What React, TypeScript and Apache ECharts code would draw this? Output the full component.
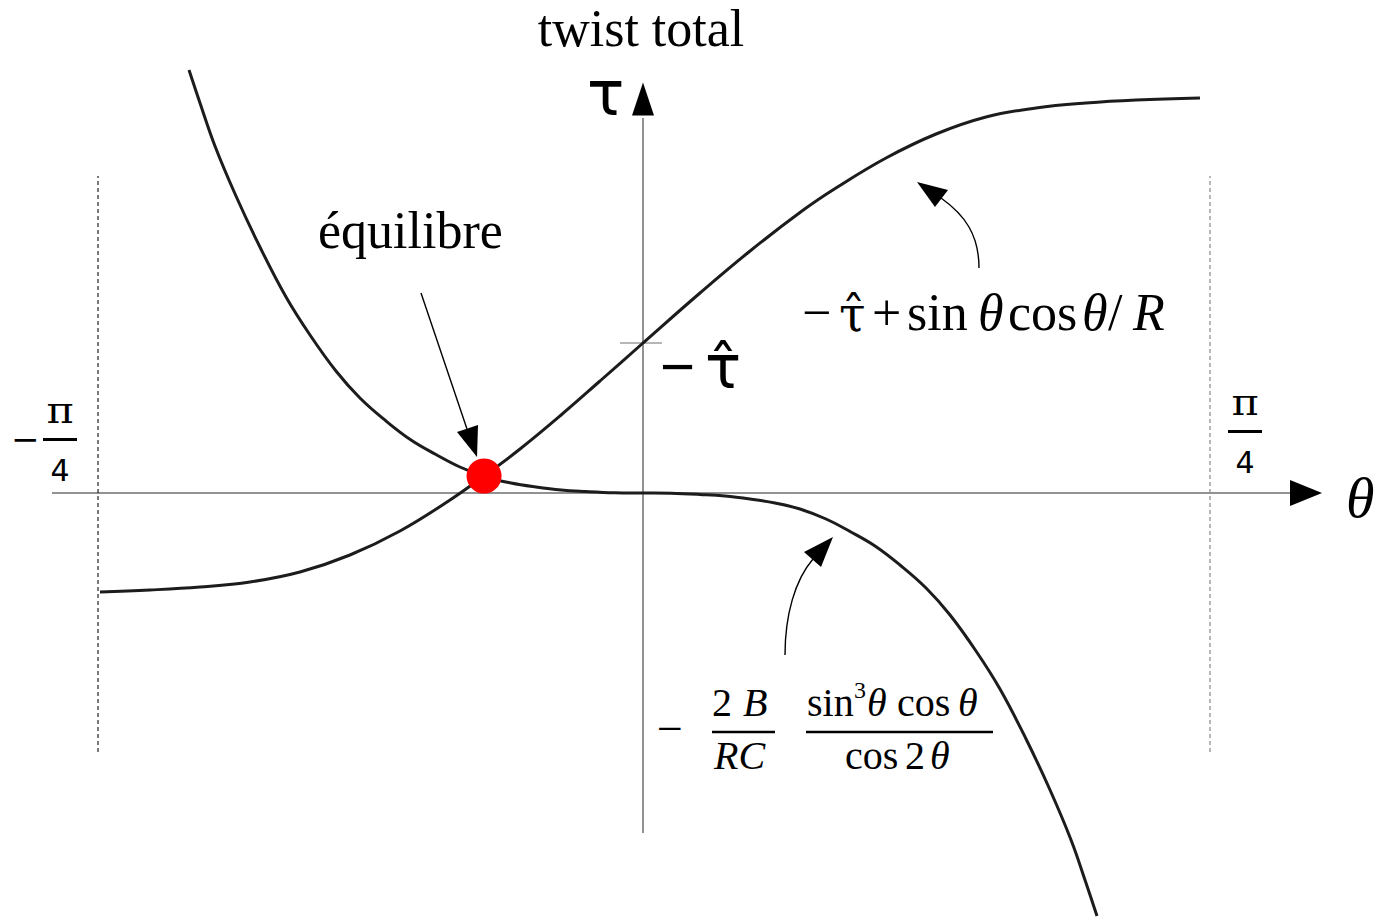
import React, { useEffect, useRef } from "react";
import * as echarts from "echarts";

// θ measured in degrees (y-axis at θ = 0), τ in arbitrary units
const X_MIN = -52.02;
const X_MAX = 59.22;
const Y_MIN = -4.24;
const Y_MAX = 4.93;

// horizontal axis extent and vertical axis extent
const thetaAxisRange = [-47.82, 52.6];
const tauAxisRange = [-3.4, 3.75];
const thetaArrowAt = 53.64;
const tauArrowAt = 3.94;

// vertical guides at −π/4 and π/4
const guideLeft = -44.09;
const guideRight = 45.87;
const guideSpan = [-2.59, 3.17];

// level of −τ̂ on the τ axis
const tauHat = 1.5;
const tauHatTick = [-1.86, 1.54];

// −τ̂ + sinθ cosθ / R
const twistTheta = [
  -43.93, -39.89, -35.84, -31.8, -27.75, -23.71, -19.66, -15.61, -12.86, -9.95,
  -6.72, -3.48, 0, 4.61, 8.66, 12.86, 15.61, 19.66, 23.71, 27.75, 31.8, 35.84,
  39.89, 45.06,
];
const twistTau = [
  -0.99, -0.97, -0.94, -0.89, -0.79, -0.62, -0.38, -0.07, 0.17, 0.44, 0.77,
  1.12, 1.5, 2.0, 2.42, 2.82, 3.05, 3.35, 3.59, 3.76, 3.85, 3.9, 3.93, 3.95,
];

// −(2B/RC) sin³θ cosθ / cos2θ
const bendTheta = [
  -36.73, -35.84, -34.63, -32.93, -30.99, -28.88, -26.94, -24.84, -22.9, -20.79,
  -18.77, -16.75, -14.81, -12.7, -10.68, -8.66, -6.63, -4.61, -2.27, 0, 2.27,
  4.61, 6.63, 8.66, 10.68, 12.7, 14.81, 16.75, 18.77, 20.79, 22.9, 24.84,
  26.94, 28.88, 30.99, 32.93, 34.63, 35.84, 36.73,
];
const bendTau = [
  4.23, 3.9, 3.47, 2.97, 2.46, 1.96, 1.58, 1.22, 0.95, 0.72, 0.53, 0.385, 0.26,
  0.16, 0.1, 0.06, 0.03, 0.015, 0.003, 0, -0.003, -0.015, -0.03, -0.06, -0.1,
  -0.16, -0.26, -0.385, -0.53, -0.72, -0.95, -1.22, -1.58, -1.96, -2.46, -2.97,
  -3.47, -3.9, -4.23,
];

// intersection of the two curves
const equilibrium = [-12.86, 0.17];

const SERIF = "'Liberation Serif', 'Times New Roman', serif";
const SANS = "'DejaVu Sans', sans-serif";

type TOpts = { italic?: boolean; align?: string; family?: string; scaleX?: number };

// text placed by its alphabetic baseline
function label(text: string, x: number, baseline: number, size: number, o: TOpts = {}) {
  const family = o.family || SERIF;
  return {
    type: "text",
    x,
    y: baseline - 0.34 * size,
    scaleX: o.scaleX || 1,
    silent: true,
    style: {
      text,
      font: `${o.italic ? "italic " : ""}${size}px ${family}`,
      fill: "#000",
      align: o.align || "left",
      textAlign: o.align || "left",
      verticalAlign: "middle",
      textVerticalAlign: "middle",
    },
  };
}

function bar(x1: number, x2: number, y: number, w = 2.5) {
  return {
    type: "line",
    silent: true,
    shape: { x1, y1: y, x2, y2: y },
    style: { stroke: "#000", lineWidth: w },
  };
}

function head(points: number[][]) {
  return { type: "polygon", silent: true, shape: { points }, style: { fill: "#000" } };
}

const pairs = (xs: number[], ys: number[]) => xs.map((x, i) => [x, ys[i]]);

export default function App() {
  const ref = useRef<HTMLDivElement>(null);

  useEffect(() => {
    if (!ref.current) return;
    const chart = echarts.init(ref.current, null, { renderer: "svg" });

    const graphic: any[] = [
      label("twist total", 641, 46, 52, { align: "center" }),
      label("équilibre", 318, 248, 52),
      label("θ", 1346, 517, 58, { italic: true }),
      label("τ", 587, 115, 62, { family: SANS }),
      // −τ̂ on the τ axis
      label("−", 660, 387, 60, { family: "'Liberation Sans', sans-serif" }),
      label("τ̂", 705, 387, 60, { family: SANS }),
      // −π/4
      label("−", 11, 451, 34, { family: SANS }),
      label("π", 60, 423, 36, { family: "'DejaVu Serif', serif", align: "center", scaleX: 1.15 }),
      bar(43, 77, 439.5, 3),
      label("4", 60, 481, 30, { family: SANS, align: "center" }),
      // π/4
      label("π", 1245, 415, 36, { family: "'DejaVu Serif', serif", align: "center", scaleX: 1.15 }),
      bar(1228, 1262, 431.5, 3),
      label("4", 1245, 473, 30, { family: SANS, align: "center" }),
      // −τ̂ + sinθ cosθ / R
      label("−", 802, 330, 52),
      label("τ̂", 839, 330, 48, { family: "'DejaVu Serif', serif" }),
      label("+", 872, 330, 52),
      label("sin", 907, 330, 52),
      label("θ", 978, 330, 52, { italic: true }),
      label("cos", 1008, 330, 52),
      label("θ", 1082, 330, 52, { italic: true }),
      label("/", 1108, 330, 52),
      label("R", 1133, 330, 52, { italic: true }),
      // −(2B/RC) sin³θ cosθ / cos2θ
      label("−", 657, 744, 46),
      label("2", 712, 716, 40),
      label("B", 743, 716, 40, { italic: true }),
      bar(712, 775, 732),
      label("RC", 714, 769, 40, { italic: true }),
      label("sin", 807, 716, 40),
      label("3", 854, 698, 24),
      label("θ", 867, 716, 40, { italic: true }),
      label("cos", 897, 716, 40),
      label("θ", 958, 716, 40, { italic: true }),
      bar(806, 993, 732),
      label("cos", 845, 769, 40),
      label("2", 905, 769, 40),
      label("θ", 930, 769, 40, { italic: true }),
      // pointer to the equilibrium
      {
        type: "line",
        silent: true,
        shape: { x1: 421, y1: 293, x2: 467, y2: 429 },
        style: { stroke: "#000", lineWidth: 1.4 },
      },
      head([[477, 457], [457, 432], [478, 425]]),
      // pointer to the twist curve
      {
        type: "bezierCurve",
        silent: true,
        shape: { x1: 979, y1: 268, cpx1: 979, cpy1: 235, cpx2: 965, cpy2: 215, x2: 941, y2: 198 },
        style: { stroke: "#000", lineWidth: 1.4, fill: "none" },
      },
      head([[917, 182], [948, 190], [935, 207]]),
      // pointer to the bending curve
      {
        type: "bezierCurve",
        silent: true,
        shape: { x1: 785, y1: 655, cpx1: 785, cpy1: 615, cpx2: 795, cpy2: 580, x2: 813, y2: 559 },
        style: { stroke: "#000", lineWidth: 1.4, fill: "none" },
      },
      head([[833, 537], [804, 552], [821, 567]]),
    ];

    const axisStyle = { color: "#6e6e6e", width: 1.5 };
    const plain = { symbol: "none", silent: true } as const;

    chart.setOption({
      animation: false,
      grid: { left: 0, right: 0, top: 0, bottom: 0, containLabel: false },
      xAxis: { type: "value", min: X_MIN, max: X_MAX, show: false },
      yAxis: { type: "value", min: Y_MIN, max: Y_MAX, show: false },
      series: [
        {
          ...plain,
          type: "line",
          data: [[thetaAxisRange[0], 0], [thetaAxisRange[1], 0]],
          lineStyle: axisStyle,
        },
        {
          ...plain,
          type: "line",
          data: [[0, tauAxisRange[0]], [0, tauAxisRange[1]]],
          lineStyle: axisStyle,
        },
        {
          ...plain,
          type: "line",
          data: [[tauHatTick[0], tauHat], [tauHatTick[1], tauHat]],
          lineStyle: { color: "#6e6e6e", width: 1.2 },
        },
        {
          ...plain,
          type: "line",
          data: [[guideLeft, guideSpan[0]], [guideLeft, guideSpan[1]]],
          lineStyle: { color: "#222", width: 1.2, type: [4, 3] },
        },
        {
          ...plain,
          type: "line",
          data: [[guideRight, guideSpan[0]], [guideRight, guideSpan[1]]],
          lineStyle: { color: "#888", width: 1.2, type: [4, 3] },
        },
        {
          type: "scatter",
          silent: true,
          data: [[thetaArrowAt, 0]],
          symbol: "path://M0,0 L32,13 L0,26 Z",
          symbolSize: [32, 26],
          itemStyle: { color: "#000", opacity: 1 },
          z: 3,
        },
        {
          type: "scatter",
          silent: true,
          data: [[0, tauArrowAt]],
          symbol: "path://M11,0 L22,33 L0,33 Z",
          symbolSize: [22, 33],
          itemStyle: { color: "#000", opacity: 1 },
          z: 3,
        },
        {
          ...plain,
          type: "line",
          data: pairs(twistTheta, twistTau),
          smooth: 0.4,
          lineStyle: { color: "#1c1c1c", width: 3 },
          z: 4,
        },
        {
          ...plain,
          type: "line",
          data: pairs(bendTheta, bendTau),
          smooth: 0.4,
          lineStyle: { color: "#1c1c1c", width: 3 },
          z: 4,
        },
        {
          type: "scatter",
          silent: true,
          data: [equilibrium],
          symbol: "circle",
          symbolSize: 35,
          itemStyle: { color: "#ff0000", opacity: 1 },
          z: 6,
        },
      ],
      graphic,
    });

    return () => chart.dispose();
  }, []);

  return (
    <div
      ref={ref}
      style={{ position: "absolute", left: 0, top: 0, width: 1375, height: 917, background: "#fff" }}
    />
  );
}
